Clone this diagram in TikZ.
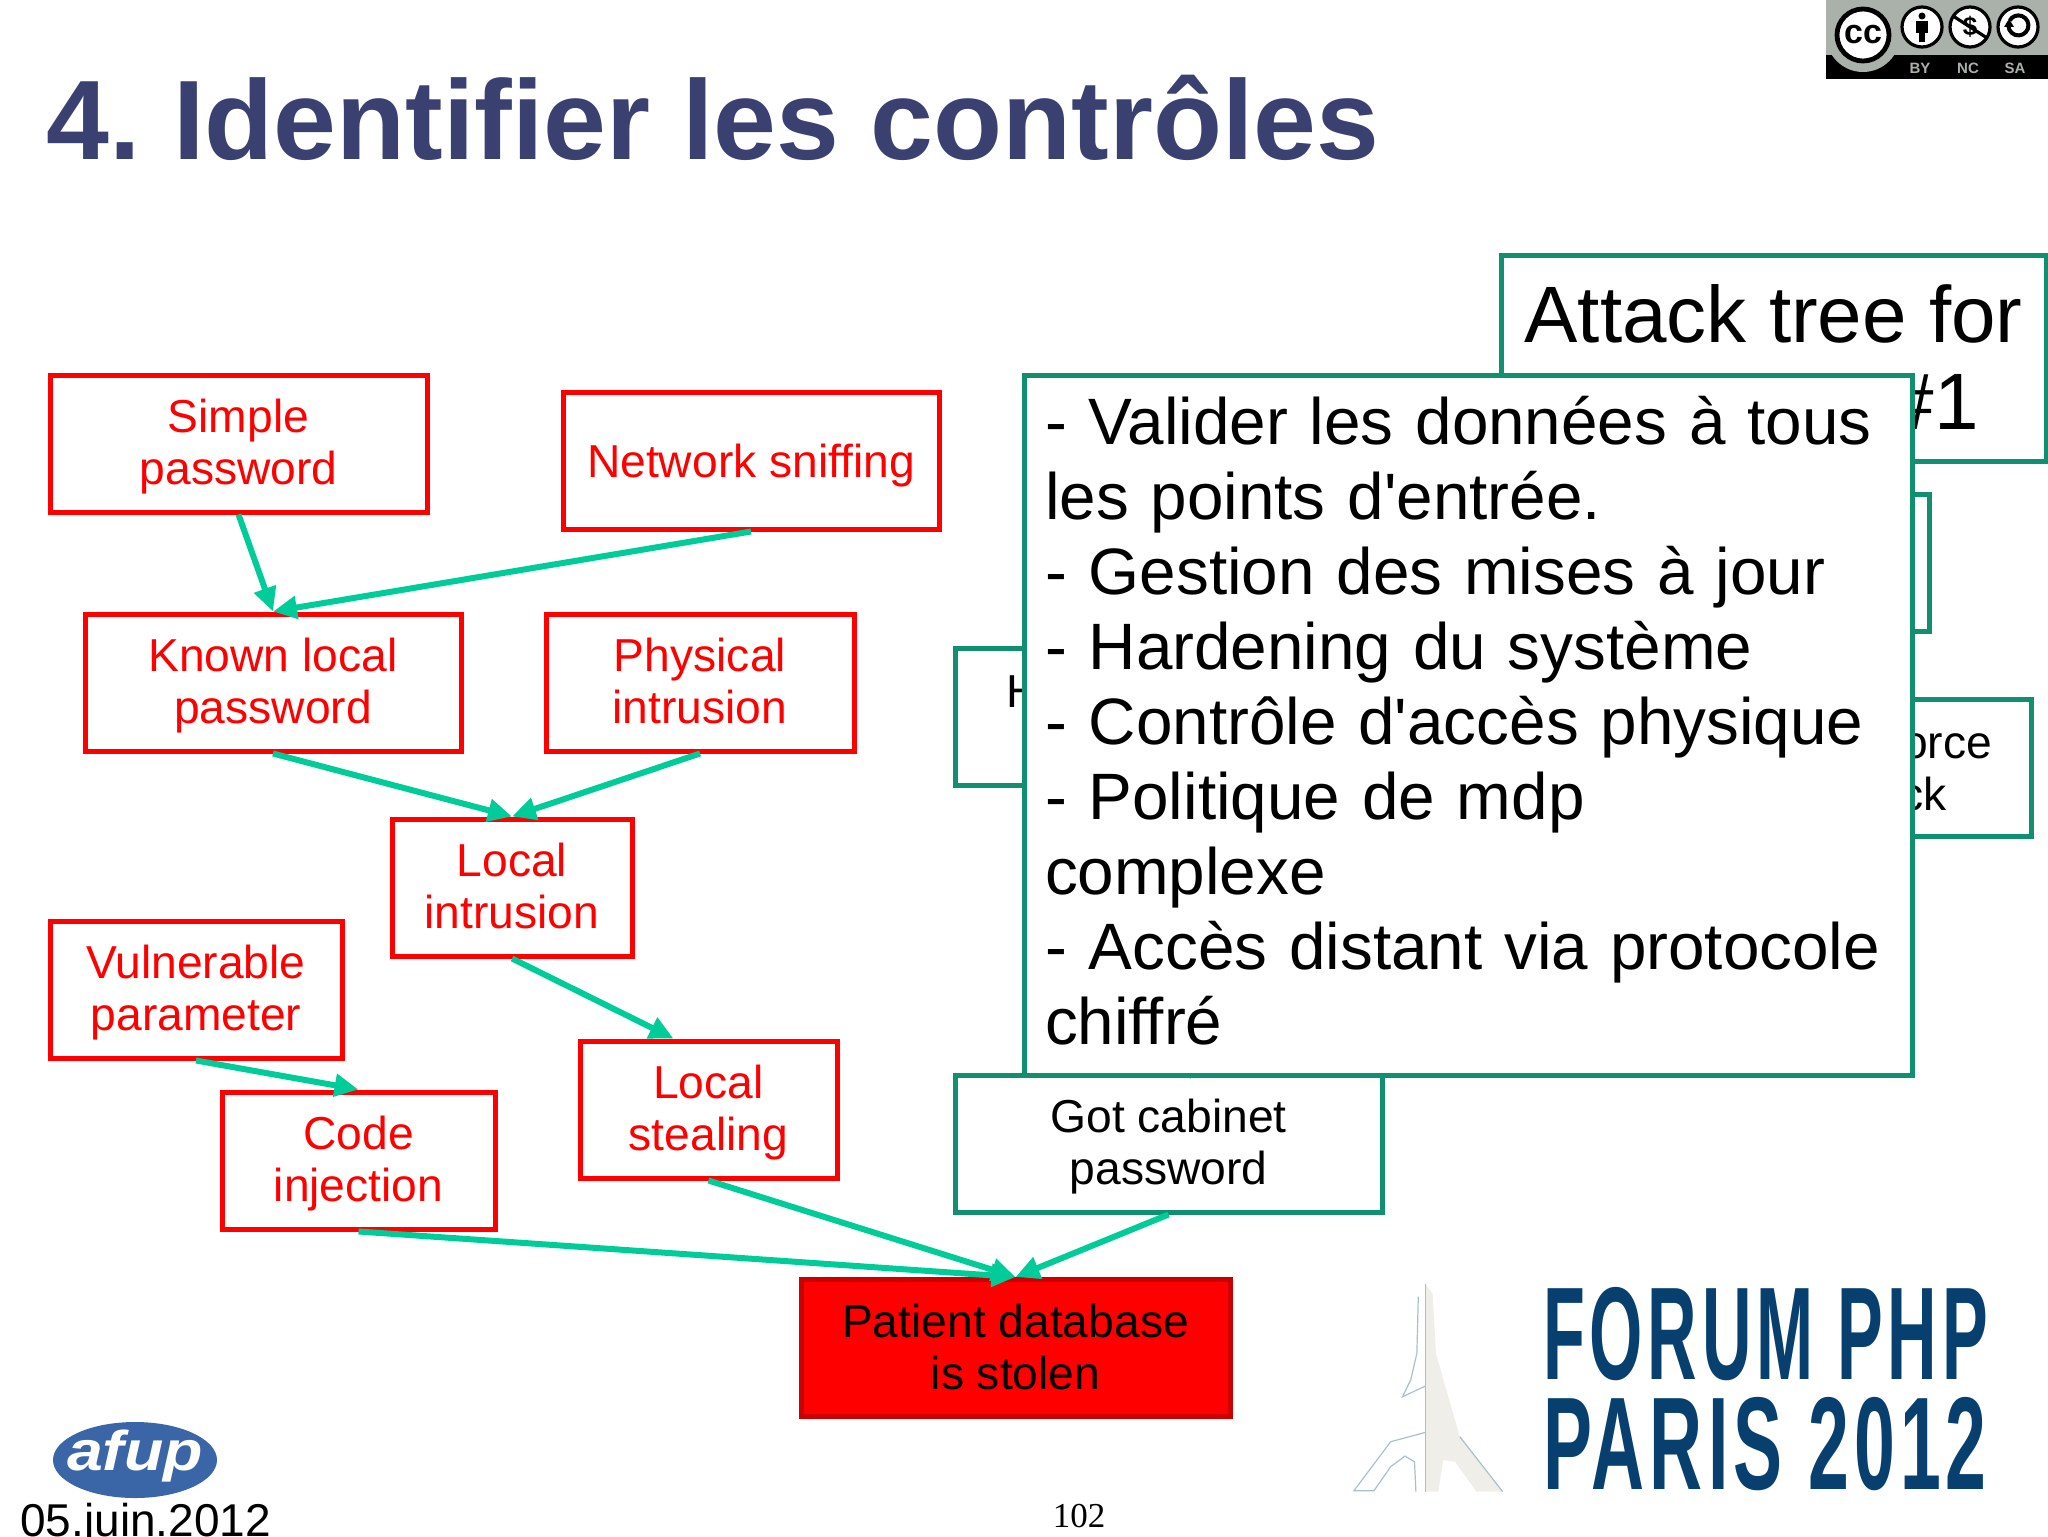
\documentclass[tikz,border=0pt]{standalone}
\usepackage{fontspec}
\setmainfont{Liberation Sans}
\newfontfamily\pagefont{Liberation Serif}
\usepackage{tikz}
\usetikzlibrary{arrows.meta, positioning}

\definecolor{slidetitle}{HTML}{3A4070}
\definecolor{linkgreen}{HTML}{00CC99}
\definecolor{boxgreen}{HTML}{109070}
\definecolor{afupblue}{HTML}{3A66A8}
\definecolor{forumblue}{HTML}{073F6E}
\definecolor{towerbeige}{HTML}{F0EEE8}
\definecolor{towerline}{HTML}{A8C0CC}
\definecolor{badgegray}{HTML}{AAB0AA}

\begin{document}
\begin{tikzpicture}[x=.5pt, y=-.5pt, on grid, auto]

        % Define styles
        \tikzstyle{redbox} = [rectangle, draw=red, line width=2.5pt, text=red, align=center, minimum width=160pt, minimum height=68.5pt, inner sep=0pt, font=\fontsize{23.1}{26}\selectfont]
        \tikzstyle{goalbox} = [redbox, draw=red!80!black, fill=red, text=black]
        \tikzstyle{greenbox} = [rectangle, draw=boxgreen, line width=2.5pt, fill=white, text=black, minimum height=68.5pt, inner sep=0pt, font=\fontsize{23.1}{26}\selectfont]
        \tikzstyle{twolines} = [text height=41pt, text depth=0pt]
        \tikzstyle{plainstrut} = [execute at begin node={\rule{0pt}{1em}}, execute at end node={\rule[-.27em]{0pt}{.27em}}]
        \tikzstyle{link} = [draw=linkgreen, line width=3pt, -{Triangle[length=12pt,width=11pt]}]
        \tikzstyle{badgeicon} = [draw=black, line width=1.6pt, fill=white]
        \tikzstyle{badgetext} = [text=badgegray, inner sep=0pt, font=\fontsize{7.5}{8}\selectfont\bfseries]
        \tikzstyle{forumtext} = [anchor=base west, text=forumblue, inner sep=0pt, transform shape, font=\fontsize{66}{66}\selectfont\bfseries\addfontfeature{LetterSpace=7}]

        \useasboundingbox (0,0) rectangle (2048,1536);

        % Place nodes
        \node [anchor=base west, inner sep=0pt, text=slidetitle, font=\fontsize{56.5}{60}\selectfont\bfseries] (title) at (46,159) {4.\hspace{-4.5pt} Identifier les contrôles};

        \node [goalbox, twolines, minimum width=214.5pt] (patient) at (1015.5,1348) {Patient database\\is stolen};
        \node [redbox, twolines, minimum width=128.5pt, above left=119.25pt and 153.5pt of patient] (stealing) {Local\\stealing};
        \node [redbox, twolines, minimum width=120pt, above left=111pt and 98.25pt of stealing] (intrusion) {Local\\intrusion};
        \node [redbox, twolines, minimum width=188pt, above left=102.5pt and 119.5pt of intrusion] (known) {Known local\\password};
        \node [redbox, twolines, minimum width=154pt, above right=102.5pt and 94pt of intrusion] (physical) {Physical\\intrusion};
        \node [redbox, twolines, minimum width=188.5pt, above left=119.5pt and 17.25pt of known] (simple) {Simple\\password};
        \node [redbox, plainstrut, minimum width=188pt, above right=111pt and 239pt of known] (sniffing) {Network sniffing};
        \node [redbox, twolines, minimum width=136.5pt, above left=93.75pt and 328.5pt of patient] (injection) {Code\\injection};
        \node [redbox, twolines, minimum width=146pt, above left=85.5pt and 81.25pt of injection] (vulnerable) {Vulnerable\\parameter};

        % Green boxes behind the text box
        \node [greenbox, twolines, align=center, minimum width=213.5pt, above right=102.25pt and 76.5pt of patient] (cabinet) {Got cabinet\\password};
        \node [greenbox, align=right, text height=71.6pt, text depth=0pt, minimum width=272.5pt, minimum height=103pt, font=\fontsize{40}{43.7}\selectfont] (attack) at (1773.5,358) {Attack tree for\\\#1\hspace*{22pt}};
        \node [greenbox, minimum width=300pt] (hidden) at (1629,563) {};
        \node [greenbox, plainstrut, align=left, text width=139pt, minimum width=190pt, minimum height=68.5pt] (left) at (1145,716.5) {H\\~};
        \node [greenbox, plainstrut, align=right, text width=76.5pt, minimum width=115.5pt] (right) at (1915.5,767.5) {orce\\ck\hspace*{22.5pt}};
        \path [link] (left.south) -- ([xshift=11pt,yshift=-3.5pt]cabinet.north);

        % Text box
        \node [greenbox, align=left, text width=423pt, minimum width=444pt, minimum height=350pt, font=\fontsize{32.8}{37.5}\selectfont, execute at begin node={\rule{0pt}{.9em}}, execute at end node={\rule[-.3em]{0pt}{.3em}}] (controls) at (1468,725) {- Valider les données à tous\\les points d\textquotesingle entrée.\\- Gestion des mises à jour\\- Hardening du système\\- Contrôle d\textquotesingle accès physique\\- Politique de mdp\\complexe\\- Accès distant via protocole\\chiffré};

        % Draw edges
        \path [link] (simple.south) -- (known.north);
        \path [link] (sniffing.south) -- (known.north);
        \path [link] (known.south) -- (intrusion.north);
        \path [link] (physical.south) -- (intrusion.north);
        \path [link] (intrusion.south) -- ([xshift=-17.5pt]stealing.north);
        \path [link] (vulnerable.south) -- (injection.north);
        \path [link] (injection.south) -- (patient.north);
        \path [link] (stealing.south) -- (patient.north);
        \path [link] (cabinet.south) -- (patient.north);

        % Licence badge
        \fill [badgegray] (1826,0) rectangle (2048,55);
        \fill [black] (1826,55) rectangle (2048,79);
        \fill [badgegray] (1863,35) circle (37);
        \draw [badgeicon, line width=2.4pt] (1863,35) circle (26);
        \node [inner sep=0pt, font=\fontsize{17}{17}\selectfont\bfseries] (cc) at (1863,35) {cc};
        \draw [badgeicon] (1922,27) circle (20);
        \fill (1922,16) circle (3.5);
        \fill (1916,21) rectangle (1928,33);
        \fill (1919,33) rectangle (1925,42);
        \draw [badgeicon] (1970,27) circle (20);
        \node [inner sep=0pt, font=\fontsize{13}{13}\selectfont\bfseries] (dollar) at (1970,27) {\$};
        \draw [line width=1.6pt] (1953,16) -- (1987,38);
        \draw [badgeicon] (2018,27) circle (20);
        \draw [line width=2pt] (2009,22) arc (200:-150:10);
        \fill (2004,27) -- (2014,27) -- (2009,19) -- cycle;
        \node [badgetext] (by) at (1920,68) {BY};
        \node [badgetext] (nc) at (1968,68) {NC};
        \node [badgetext] (sa) at (2015,68) {SA};

        % Logos and footer
        \fill [afupblue] (135,1460) ellipse (82 and 38);
        \node [inner sep=0pt, text=white, xscale=1.15, transform shape, font=\fontsize{28}{28}\selectfont\bfseries\itshape] (afup) at (135,1456) {afup};
        \node [anchor=base west, inner sep=0pt, font=\fontsize{23}{23}\selectfont] (date) at (20,1536) {05.juin.2012};
        \node [inner sep=0pt, font=\pagefont\fontsize{17.5}{17.5}\selectfont] (page) at (1079,1516) {102};

        \node [forumtext, xscale=.519] (forum) at (1543,1379) {FORUM PHP};
        \node [forumtext, xscale=.556] (paris) at (1543,1489) {PARIS 2012};

        \begin{scope}[shift={(1300,1240)}, x=.2385pt, y=-.1667pt]
                \fill [towerbeige] (263,133) -- (278,160) -- (285,340) -- (335,590) -- (425,755) -- (370,755) -- (325,665) -- (300,660) -- (290,755) -- (263,755) -- cycle;
                \draw [towerline, line width=.6pt] (263,133) -- (263,755);
                \draw [towerline, line width=.6pt] (248,170) -- (245,340) -- (232,420) -- (215,470) -- (263,438);
                \draw [towerline, line width=.6pt] (263,577) -- (190,605) -- (113,752) -- (155,752) -- (190,680) -- (220,648) -- (240,665) -- (243,755);
                \draw [towerline, line width=.6pt] (335,590) -- (425,755);
        \end{scope}

\end{tikzpicture}
\end{document}
